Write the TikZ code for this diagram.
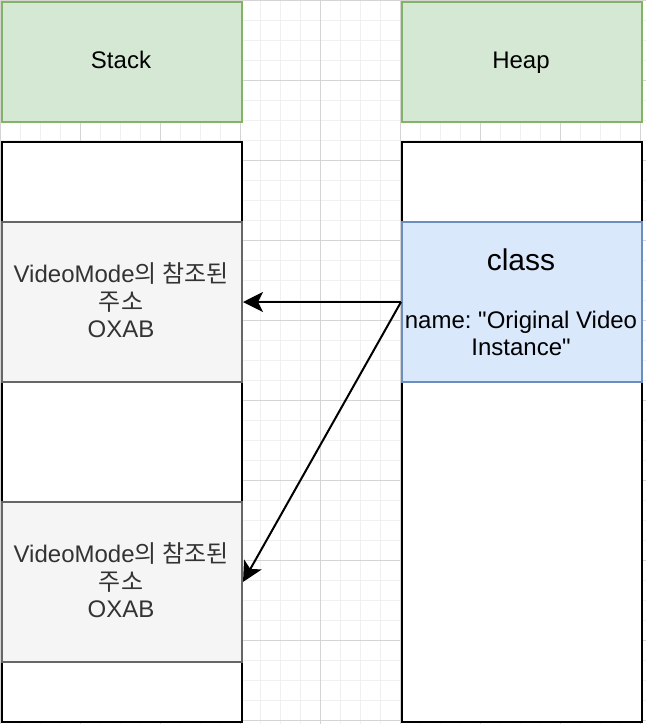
\documentclass[tikz,border=0pt]{standalone}
\usepackage{fontspec}
\setmainfont{Liberation Sans}
\newfontfamily\kr{Noto Sans CJK KR}
\usetikzlibrary{arrows.meta}
\frenchspacing
\definecolor{gridmin}{HTML}{F0F0F0}
\definecolor{gridmaj}{HTML}{D4D4D4}
\definecolor{grfill}{HTML}{D5E8D4}
\definecolor{grline}{HTML}{82B366}
\definecolor{gyfill}{HTML}{F5F5F5}
\definecolor{gyline}{HTML}{666666}
\definecolor{blfill}{HTML}{DAE8FC}
\definecolor{blline}{HTML}{6C8EBF}
\definecolor{txtgray}{HTML}{333333}
\tikzset{
  box/.style={rectangle, inner sep=0pt, anchor=north west, line width=2pt},
  header/.style={box, fill=grfill, draw=grline, minimum width=240pt, minimum height=120pt},
  column/.style={box, fill=white, draw=black, minimum width=240pt, minimum height=580pt},
  cell/.style={box, fill=gyfill, draw=gyline, minimum width=240pt, minimum height=160pt},
  cls/.style={box, fill=blfill, draw=blline, minimum width=240pt, minimum height=160pt},
  txt/.style={inner sep=0pt, anchor=base, font=\fontsize{24}{28}\selectfont},
  gtxt/.style={txt, text=txtgray},
  arr/.style={line width=2pt, -{Stealth[length=20pt, width=20pt, inset=5pt]}}
}
\begin{document}
\begin{tikzpicture}[x=1pt, y=-1pt]
\useasboundingbox (0,0) rectangle (646,724);
% grid
\foreach \i in {0,20,...,640} \draw[gridmin, line width=1pt] (\i+0.5,0) -- (\i+0.5,724);
\foreach \j in {0,20,...,720} \draw[gridmin, line width=1pt] (0,\j+0.5) -- (646,\j+0.5);
\foreach \i in {0,80,...,640} \draw[gridmaj, line width=1pt] (\i+0.5,0) -- (\i+0.5,724);
\foreach \j in {0,80,...,720} \draw[gridmaj, line width=1pt] (0,\j+0.5) -- (646,\j+0.5);
% headers
\node[header] (stackhd) at (1,1) {};
\node[header] (heaphd) at (401,1) {};
\node[txt] (stacklbl) at (121,68) {Stack};
\node[txt] (heaplbl) at (521,68) {Heap};
% columns
\node[column] (stackcol) at (1,141) {};
\node[column] (heapcol) at (401,141) {};
% stack cells
\node[cell] (stk1) at (1,221) {};
\node[cell] (stk2) at (1,501) {};
\node[gtxt] (s1a) at (121,282) {VideoMode{\kr 의 참조된}};
\node[gtxt] (s1b) at (121,310) {{\kr 주소}};
\node[gtxt] (s1c) at (121,337) {OXAB};
\node[gtxt] (s2a) at (121,562) {VideoMode{\kr 의 참조된}};
\node[gtxt] (s2b) at (121,590) {{\kr 주소}};
\node[gtxt] (s2c) at (121,617) {OXAB};
% heap class
\node[cls] (heapcls) at (401,221) {};
\node[txt, font=\fontsize{30}{36}\selectfont] (clsname) at (521,270) {class};
\node[txt] (clsa) at (521,328) {name: \textquotedbl Original Video};
\node[txt] (clsb) at (521,355) {Instance\textquotedbl};
% arrows
\draw[arr] (heapcls.west) -- (stk1.east);
\draw[arr] (heapcls.west) -- (stk2.east);
\end{tikzpicture}
\end{document}
